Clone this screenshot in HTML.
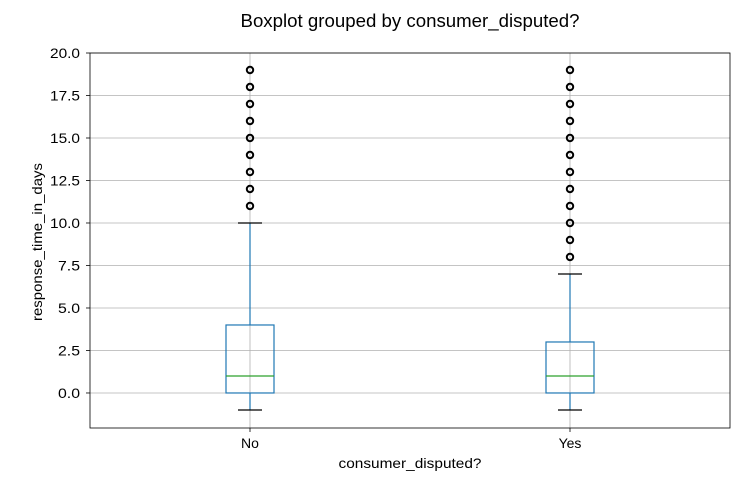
<!DOCTYPE html>
<html><head><meta charset="utf-8"><style>
body{margin:0;background:#fff;font-family:"Liberation Sans","DejaVu Sans",sans-serif}
</style></head><body>
<svg id="chart" width="747" height="481" xmlns="http://www.w3.org/2000/svg"></svg>
<script>
const categories = ["No","Yes"];
const whiskerLow = [-1,-1];
const q1 = [0,0];
const medians = [1,1];
const q3 = [4,3];
const whiskerHigh = [10,7];
const outliersNo = [11,12,13,14,15,16,17,18,19];
const outliersYes = [8,9,10,11,12,13,14,15,16,17,18,19];
const yTicks = [0,2.5,5,7.5,10,12.5,15,17.5,20];

const NS="http://www.w3.org/2000/svg";
const svg=document.getElementById('chart');
const L=90,R=730,T=53,B=428,yMin=-2.06,yMax=20;
const y=v=>T+(yMax-v)/(yMax-yMin)*(B-T);
const x=i=>L+(i+0.5)*(R-L)/categories.length;
function el(tag,attrs,parent){const e=document.createElementNS(NS,tag);for(const k in attrs)e.setAttribute(k,attrs[k]);(parent||svg).appendChild(e);return e;}

yTicks.forEach(t=>{
  const g=el('line',{x1:L,x2:R,y1:y(t),y2:y(t),stroke:'#b0b0b0','stroke-width':0.8});
  
  
  el('line',{x1:L-4,x2:L,y1:y(t),y2:y(t),stroke:'#000','stroke-width':0.8});
  const s=t.toFixed(1);
  const tx=el('text',{x:L-10,y:y(t)+5,'text-anchor':'end','font-size':14,fill:'#000',textLength:s.length===4?30:22,lengthAdjust:'spacingAndGlyphs'});
  tx.textContent=s;
  
  
});
categories.forEach((c,i)=>{
  const g=el('line',{x1:x(i),x2:x(i),y1:T,y2:B,stroke:'#b0b0b0','stroke-width':0.8});
  
  
  el('line',{x1:x(i),x2:x(i),y1:B,y2:B+4,stroke:'#000','stroke-width':0.8});
  const tx=el('text',{x:x(i),y:B+20,'text-anchor':'middle','font-size':14,fill:'#000'});
  tx.textContent=c;
  
  
});

const outs=[outliersNo,outliersYes];
categories.forEach((c,i)=>{
  const cx=x(i),hw=24,cw=12;
  const grp=el('g',{});
  
  
  el('line',{x1:cx,x2:cx,y1:y(q1[i]),y2:y(whiskerLow[i]),stroke:'#1f77b4','stroke-width':1.2},grp);
  el('line',{x1:cx,x2:cx,y1:y(q3[i]),y2:y(whiskerHigh[i]),stroke:'#1f77b4','stroke-width':1.2},grp);
  el('line',{x1:cx-cw,x2:cx+cw,y1:y(whiskerLow[i]),y2:y(whiskerLow[i]),stroke:'#000','stroke-width':1.2},grp);
  el('line',{x1:cx-cw,x2:cx+cw,y1:y(whiskerHigh[i]),y2:y(whiskerHigh[i]),stroke:'#000','stroke-width':1.2},grp);
  el('rect',{x:cx-hw,y:y(q3[i]),width:2*hw,height:y(q1[i])-y(q3[i]),fill:'none',stroke:'#1f77b4','stroke-width':1.2},grp);
  el('line',{x1:cx-hw,x2:cx+hw,y1:y(medians[i]),y2:y(medians[i]),stroke:'#2ca02c','stroke-width':1.2},grp);
  outs[i].forEach(v=>{
    const o=el('circle',{cx:cx,cy:y(v),r:3.2,fill:'none',stroke:'#000','stroke-width':2});
    
    
  });
});

el('rect',{x:L,y:T,width:R-L,height:B-T,fill:'none',stroke:'#000','stroke-width':0.8});

const title=el('text',{x:410,y:27,'text-anchor':'middle','font-size':18,fill:'#000',textLength:339,lengthAdjust:'spacingAndGlyphs'});
title.textContent='Boxplot grouped by consumer_disputed?';


const xl=el('text',{x:410,y:468,'text-anchor':'middle','font-size':14,fill:'#000',textLength:143,lengthAdjust:'spacingAndGlyphs'});
xl.textContent='consumer_disputed?';


const yl=el('text',{x:0,y:0,'text-anchor':'middle','font-size':14,fill:'#000',textLength:158,lengthAdjust:'spacingAndGlyphs',transform:'translate(42,242) rotate(-90)'});
yl.textContent='response_time_in_days';


</script>
</body></html>
